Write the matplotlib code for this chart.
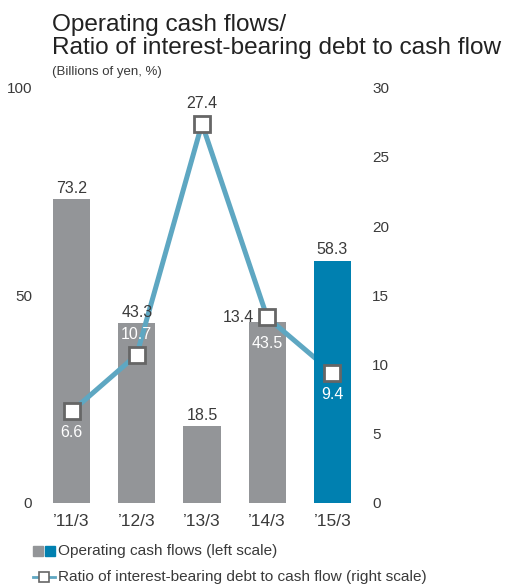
import matplotlib
matplotlib.use("Agg")
import matplotlib.pyplot as plt
from matplotlib.lines import Line2D
from matplotlib.patches import Rectangle

plt.rcParams['font.family'] = ['Liberation Sans', 'DejaVu Sans']

# Data
periods = ["\u201911/3", "\u201912/3", "\u201913/3", "\u201914/3", "\u201915/3"]
cash_flows = [73.2, 43.3, 18.5, 43.5, 58.3]          # billions of yen (left scale)
debt_ratio = [6.6, 10.7, 27.4, 13.4, 9.4]            # % (right scale)
left_ticks = [0, 50, 100]
right_ticks = [0, 5, 10, 15, 20, 25, 30]

GRAY = "#939598"
BLUE = "#0080b0"
LINE = "#5ea7c2"
EDGE = "#666666"
TEXT = "#3a3a3a"

fig = plt.figure(figsize=(5.08, 5.85), dpi=100)
ax = fig.add_axes([0.0766, 0.1405, 0.642, 0.7095])
ax2 = ax.twinx()

x = list(range(len(periods)))
colors = [GRAY] * (len(periods) - 1) + [BLUE]

ax.set_xlim(-0.5, len(periods) - 0.5)
ax.set_ylim(0, 100)
ax2.set_ylim(0, 30)
scale = 30 / 100

# Bars on the left scale; the last (blue) bar sits above the line
for xi, v, c in zip(x, cash_flows, colors):
    z = 1 if c == GRAY else 3
    ax2.bar(xi, v * scale, width=0.57, color=c, zorder=z)

# Ratio line on the right scale
ax2.plot(x, debt_ratio, color=LINE, lw=3.6, zorder=2, solid_capstyle='butt')
ax2.plot(x, debt_ratio, ls='none', marker='s', ms=12, mfc='white',
         mec=EDGE, mew=2.0, zorder=4)

for a in (ax, ax2):
    for s in a.spines.values():
        s.set_visible(False)
    a.tick_params(length=0, labelsize=11, colors=TEXT)

ax.set_yticks(left_ticks)
ax.set_yticklabels([str(t) for t in left_ticks])
ax.tick_params(axis='y', pad=5)
ax2.set_yticks(right_ticks)
ax2.set_yticklabels([str(t) for t in right_ticks])
ax2.tick_params(axis='y', pad=5)
ax.set_xticks(x)
ax.set_xticklabels(periods, fontsize=12.5)
ax.tick_params(axis='x', pad=8)

# Bar value labels
for xi, v in zip(x, cash_flows):
    if xi == 3:
        ax2.text(xi, v * scale - 1.0, f"{v:.1f}", ha='center', va='top',
                 fontsize=11.5, color='white', zorder=5)
    else:
        ax2.text(xi, v * scale + 0.25, f"{v:.1f}", ha='center', va='bottom',
                 fontsize=11.5, color=TEXT, zorder=5)

# Ratio value labels
ratio_pos = [
    (0, -1.0, 'center', 'top', 'white'),
    (0, 0.9, 'center', 'bottom', 'white'),
    (0, 0.9, 'center', 'bottom', TEXT),
    (-0.2, 0.0, 'right', 'center', TEXT),
    (0, -1.0, 'center', 'top', 'white'),
]
for xi, v, (dx, dy, ha, va, col) in zip(x, debt_ratio, ratio_pos):
    ax2.text(xi + dx, v + dy, f"{v:.1f}", ha=ha, va=va, fontsize=11.5,
             color=col, zorder=6)

# Titles
fig.text(0.102, 0.957, "Operating cash flows/", fontsize=17.6, color="#222222",
         va='center', ha='left')
fig.text(0.102, 0.918, "Ratio of interest-bearing debt to cash flow",
         fontsize=17.6, color="#222222", va='center', ha='left')
fig.text(0.102, 0.877, "(Billions of yen, %)", fontsize=9.5, color=TEXT,
         va='center', ha='left')

# Legend drawn manually
W, H = 508, 585
def px(xp, yp):
    return xp / W, 1 - yp / H

for x0, c in ((33, GRAY), (45, BLUE)):
    fx, fy = px(x0, 556)
    fig.add_artist(Rectangle((fx, fy), 10 / W, 10 / H, color=c,
                             transform=fig.transFigure))
fx, fy = px(58, 551)
fig.text(fx, fy, "Operating cash flows (left scale)", fontsize=11.1,
         color=TEXT, va='center', ha='left')

y_l = 1 - 577 / H
fig.add_artist(Line2D([33 / W, 55 / W], [y_l, y_l], color=LINE, lw=2,
                      transform=fig.transFigure))
fig.add_artist(Line2D([44 / W], [y_l], marker='s', ms=7, mfc='white',
                      mec=EDGE, mew=1.2, transform=fig.transFigure))
fx, fy = px(58, 577)
fig.text(fx, fy, "Ratio of interest-bearing debt to cash flow (right scale)",
         fontsize=11.1, color=TEXT, va='center', ha='left')

fig.savefig("out.png", dpi=100)
